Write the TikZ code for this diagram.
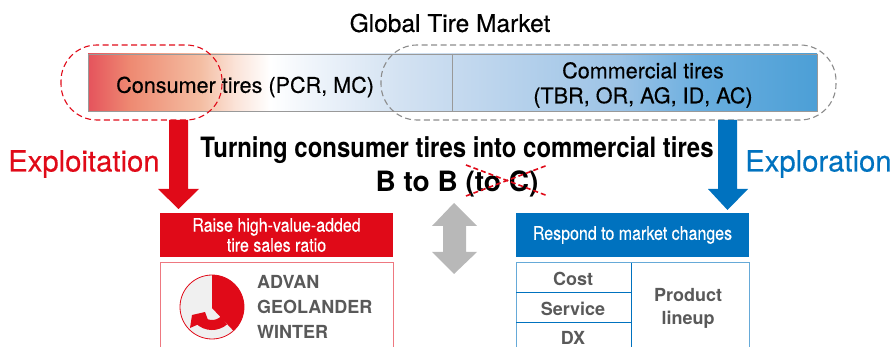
\documentclass[tikz,border=0pt]{standalone}
\usepackage{fontspec}
\usepackage{xcolor}
\setmainfont{TeX Gyre Heros}
\newfontfamily\narrowfont[FakeStretch=0.855]{TeX Gyre Heros}
\newfontfamily\headfont[FakeStretch=0.855,FakeBold=0.4]{TeX Gyre Heros}
\newfontfamily\midfont[FakeBold=0.35]{TeX Gyre Heros}
\usetikzlibrary{shapes,arrows,positioning,calc}
\definecolor{exploit red}{HTML}{E00A18}
\definecolor{explore blue}{HTML}{0072BF}
\definecolor{label gray}{HTML}{595959}
\definecolor{dial gray}{HTML}{F0F0F0}
\definecolor{bar a}{HTML}{E5535C}
\definecolor{bar b}{HTML}{EE8A72}
\definecolor{bar c}{HTML}{F4BDA2}
\definecolor{bar d}{HTML}{FBE3D8}
\definecolor{bar e}{HTML}{F0F5FB}
\definecolor{bar f}{HTML}{D3E2F2}
\definecolor{bar g}{HTML}{C6DAEF}
\definecolor{bar h}{HTML}{9CC3E6}
\definecolor{bar i}{HTML}{6AAEDF}
\definecolor{bar j}{HTML}{4C9FD6}
\pgfdeclarehorizontalshading{market}{100bp}{
    color(0bp)=(bar a);
    color(25bp)=(bar a);
    color(27.9bp)=(bar b);
    color(32.7bp)=(bar c);
    color(35.1bp)=(bar d);
    color(37.5bp)=(white);
    color(40.2bp)=(bar e);
    color(46.4bp)=(bar f);
    color(50bp)=(bar g);
    color(61.5bp)=(bar h);
    color(67bp)=(bar i);
    color(75bp)=(bar j);
    color(100bp)=(bar j)}
\tikzset{
    plain text/.style={inner sep=0pt,font=\midfont\fontsize{24.5}{28}\selectfont},
    bar text/.style={inner sep=0pt,align=center,font=\midfont\fontsize{21.6}{25}\selectfont},
    big word/.style={inner sep=0pt,anchor=west,font=\midfont\fontsize{29.3}{32}\selectfont},
    head box/.style={minimum width=233pt,minimum height=44pt,inner sep=0pt,align=center,text=white,font=\headfont\fontsize{18.7}{20}\selectfont},
    cell text/.style={inner sep=0pt,align=center,text=label gray,font=\bfseries\fontsize{18}{23}\selectfont},
    side text/.style={inner sep=0pt,anchor=west,text=label gray,font=\bfseries\fontsize{18}{24}\selectfont},
    cross line/.style={exploit red,line width=1.6pt,dash pattern=on 5pt off 3pt},
    halo/.style={line width=1.1pt,dash pattern=on 6pt off 3.5pt,rounded corners=36pt},
}
\begin{document}
\begin{tikzpicture}[x=1pt,y=-1pt]
    \useasboundingbox (0,0) rectangle (894,347);

    % market bar
    \node[draw=black!40,thick,shading=market,minimum width=729pt,minimum height=57pt,inner sep=0pt] (bar) at (452.5,82.5) {};
    \draw[black!40] (452,54) -- (452,111);

    \node[plain text] (title) at (450,23) {Global Tire Market};
    \node[bar text,anchor=west] (consumer) at (116,87) {Consumer tires (PCR, MC)};
    \node[bar text] (commercial) at (643,85) {Commercial tires\\(TBR, OR, AG, ID, AC)};

    % dashed outlines
    \draw[exploit red,halo] (61,45) rectangle (222,120);
    \draw[black!45,halo] (381,45) rectangle (836,120);

    % arrows
    \fill[exploit red] (169,120) -- (188,120) -- (188,189) -- (199,189) -- (178.5,209) -- (158,189) -- (169,189) -- cycle;
    \fill[explore blue] (718,120) -- (737,120) -- (737,189) -- (748,189) -- (727.5,210) -- (708,189) -- (718,189) -- cycle;
    \fill[black!28] (454,203) -- (477,226) -- (466,226) -- (466,252) -- (477,252) -- (454,274) -- (432,252) -- (443,252) -- (443,226) -- (432,226) -- cycle;

    \node[big word,text=exploit red] (exploit) at (8,164) {Exploitation};
    \node[big word,text=explore blue] (explore) at (745,164) {Exploration};

    \node[inner sep=0pt,font=\narrowfont\bfseries\fontsize{28}{30}\selectfont] (turning) at (457,150) {Turning consumer tires into commercial tires};
    \node[inner sep=0pt,font=\bfseries\fontsize{28}{30}\selectfont] (btob) at (457,184) {B to B (to C)};
    \draw[cross line] (466,165) -- (548,196);
    \draw[cross line] (466,196) -- (548,165);

    % left column
    \node[head box,fill=exploit red] (raise) at (276.5,235) {Raise high-value-added\\tire sales ratio};
    \draw[exploit red!55!white,line width=1pt] (160,347) -- (160,263) -- (393,263) -- (393,347);
    \fill[dial gray] (212,307) circle (32);
    \fill[exploit red] (212,308) -- (212,275) arc (-90:48:32) -- cycle;
    \draw[exploit red,line width=10pt] (212,307) ++(48:18) arc (48:135:18);
    \fill[exploit red] (192,315) -- (205,312) -- (208,320) -- (190,328) -- cycle;
    \draw[exploit red,line width=0.8pt] (212,307) circle (32);
    \node[side text] (advan) at (257,282) {ADVAN};
    \node[side text] (geolander) at (257,307) {GEOLANDER};
    \node[side text] (winter) at (257,332) {WINTER};

    % right column
    \node[head box,fill=explore blue] (respond) at (632.5,235) {Respond to market changes};
    \draw[explore blue!60!white,line width=1pt] (516,347) -- (516,263) -- (749,263) -- (749,347);
    \draw[explore blue,line width=0.9pt] (631,263) -- (631,347);
    \draw[explore blue,line width=0.9pt] (516,292) -- (631,292);
    \draw[explore blue,line width=0.9pt] (516,322) -- (631,322);
    \node[cell text] (cost) at (573,279) {Cost};
    \node[cell text] (service) at (573,309) {Service};
    \node[cell text] (dx) at (573,338) {DX};
    \node[cell text] (lineup) at (688,308) {Product\\lineup};
\end{tikzpicture}
\end{document}
